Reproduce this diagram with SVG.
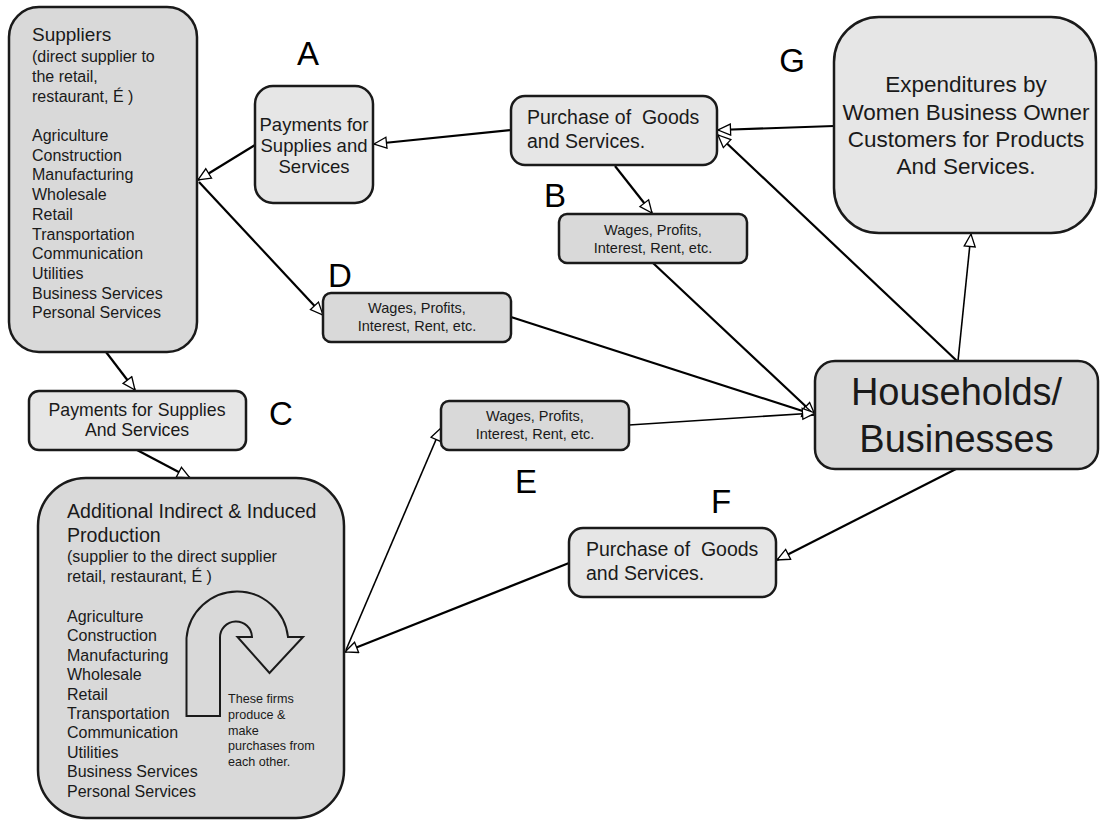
<svg xmlns="http://www.w3.org/2000/svg" width="1103" height="823" viewBox="0 0 1103 823">
<style>
text{font-family:"Liberation Sans",Arial,sans-serif;fill:#1a1a1a;white-space:pre}
.box{stroke:#1a1a1a;stroke-width:2.5}
.lt{fill:#e6e6e6}
.dk{fill:#d9d9d9}
.c{text-anchor:middle}
.lbl{font-size:33px;fill:#000;text-anchor:middle}
.ln{fill:none;stroke:#000;stroke-width:2.2;marker-end:url(#ah)}
.th{stroke-width:1.6}
</style>
<defs>
<marker id="ah" markerUnits="userSpaceOnUse" markerWidth="16" markerHeight="14" refX="14" refY="6.5" orient="auto">
<path d="M1.5,1 L14,6.5 L1.5,12 Z" fill="#fff" stroke="#000" stroke-width="1.3"/>
</marker>
</defs>
<rect width="1103" height="823" fill="#fff"/>

<g id="connectors">
<line class="ln" x1="511" y1="130" x2="374" y2="144"/>
<line class="ln" x1="255" y1="145" x2="198" y2="180"/>
<line class="ln" x1="199" y1="182" x2="323" y2="315"/>
<line class="ln" x1="615" y1="166" x2="652" y2="213"/>
<line class="ln" x1="834" y1="126" x2="718" y2="130"/>
<line class="ln" x1="957" y1="361" x2="718" y2="135"/>
<line class="ln th" x1="958" y1="361" x2="971" y2="234"/>
<line class="ln" x1="653" y1="263" x2="815" y2="415"/>
<line class="ln" x1="511" y1="317" x2="815" y2="415"/>
<line class="ln th" x1="629" y1="425" x2="815" y2="413"/>
<line class="ln" x1="956" y1="469" x2="777" y2="560"/>
<line class="ln" x1="569" y1="563" x2="345" y2="652"/>
<line class="ln th" x1="346" y1="650" x2="441" y2="428"/>
<line class="ln" x1="106" y1="352" x2="135" y2="390"/>
<line class="ln" x1="137" y1="450" x2="190" y2="478"/>
</g>

<g id="suppliers">
<rect class="box dk" x="9" y="7" width="188" height="345" rx="30"/>
<text x="32" y="41" font-size="19">Suppliers</text>
<text x="32" y="62" font-size="16">(direct supplier to</text>
<text x="32" y="82" font-size="16">the retail,</text>
<text x="32" y="102" font-size="16">restaurant, É )</text>
<text font-size="16">
<tspan x="32" y="141">Agriculture</tspan>
<tspan x="32" y="160.7">Construction</tspan>
<tspan x="32" y="180.4">Manufacturing</tspan>
<tspan x="32" y="200.1">Wholesale</tspan>
<tspan x="32" y="219.8">Retail</tspan>
<tspan x="32" y="239.5">Transportation</tspan>
<tspan x="32" y="259.2">Communication</tspan>
<tspan x="32" y="278.9">Utilities</tspan>
<tspan x="32" y="298.6">Business Services</tspan>
<tspan x="32" y="318.3">Personal Services</tspan>
</text>
</g>

<g id="payments-a">
<rect class="box lt" x="255" y="86" width="118" height="117" rx="18"/>
<text class="c" x="314" y="131" font-size="18.5">Payments for</text>
<text class="c" x="314" y="152" font-size="18.5">Supplies and</text>
<text class="c" x="314" y="173" font-size="18.5">Services</text>
</g>
<text class="lbl" x="308" y="65" font-size="31">A</text>

<g id="purchase-top">
<rect class="box lt" x="511" y="96" width="206" height="69" rx="14"/>
<text x="527" y="124" font-size="19.5">Purchase of  Goods</text>
<text x="527" y="148" font-size="19.5">and Services.</text>
</g>
<text class="lbl" x="555" y="207" font-size="34">B</text>

<g id="wages-b">
<rect class="box dk" x="559" y="214" width="188" height="49" rx="8"/>
<text class="c" x="653" y="235" font-size="14.5">Wages, Profits,</text>
<text class="c" x="653" y="253" font-size="14.5">Interest, Rent, etc.</text>
</g>

<g id="wages-d">
<rect class="box dk" x="323" y="293" width="188" height="49" rx="8"/>
<text class="c" x="417" y="313" font-size="14.5">Wages, Profits,</text>
<text class="c" x="417" y="331" font-size="14.5">Interest, Rent, etc.</text>
</g>
<text class="lbl" x="340" y="287" font-size="35">D</text>

<g id="wages-e">
<rect class="box dk" x="441" y="401" width="188" height="49" rx="8"/>
<text class="c" x="535" y="421" font-size="14.5">Wages, Profits,</text>
<text class="c" x="535" y="439" font-size="14.5">Interest, Rent, etc.</text>
</g>
<text class="lbl" x="526" y="493" font-size="38">E</text>

<g id="expenditures">
<rect class="box lt" x="834" y="17" width="262" height="216" rx="45"/>
<text class="c" x="966" y="92" font-size="22.5">Expenditures by</text>
<text class="c" x="966" y="119.5" font-size="22.5">Women Business Owner</text>
<text class="c" x="966" y="147" font-size="22.5">Customers for Products</text>
<text class="c" x="966" y="174" font-size="22.5">And Services.</text>
</g>
<text class="lbl" x="792" y="72" font-size="37">G</text>

<g id="households">
<rect class="box dk" x="815" y="361" width="283" height="108" rx="20"/>
<text class="c" x="956.5" y="405" font-size="38">Households/</text>
<text class="c" x="956.5" y="452" font-size="38">Businesses</text>
</g>

<g id="payments-c">
<rect class="box lt" x="29" y="391" width="217" height="59" rx="10"/>
<text class="c" x="137" y="416" font-size="17.7">Payments for Supplies</text>
<text class="c" x="137" y="436" font-size="17.7">And Services</text>
</g>
<text class="lbl" x="281" y="425" font-size="32">C</text>

<g id="purchase-f">
<rect class="box lt" x="569" y="528" width="207" height="69" rx="14"/>
<text x="586" y="556" font-size="19.5">Purchase of  Goods</text>
<text x="586" y="580" font-size="19.5">and Services.</text>
</g>
<text class="lbl" x="721" y="513" font-size="38">F</text>

<g id="indirect">
<rect class="box dk" x="38" y="478" width="306" height="340" rx="48"/>
<text x="67" y="518" font-size="19.6">Additional Indirect &amp; Induced</text>
<text x="67" y="542" font-size="19.6">Production</text>
<text x="67" y="562" font-size="16">(supplier to the direct supplier</text>
<text x="67" y="582" font-size="16">retail, restaurant, É )</text>
<text font-size="16">
<tspan x="67" y="622">Agriculture</tspan>
<tspan x="67" y="641.4">Construction</tspan>
<tspan x="67" y="660.8">Manufacturing</tspan>
<tspan x="67" y="680.2">Wholesale</tspan>
<tspan x="67" y="699.6">Retail</tspan>
<tspan x="67" y="719">Transportation</tspan>
<tspan x="67" y="738.4">Communication</tspan>
<tspan x="67" y="757.8">Utilities</tspan>
<tspan x="67" y="777.2">Business Services</tspan>
<tspan x="67" y="796.6">Personal Services</tspan>
</text>
<path d="M186.5,716 L186.5,638 A51,51 0 0 1 288,637 L303,637 L269.5,673 L237.5,637 L252,637 A16,16 0 0 0 220,638 L220,716 Z" fill="#d9d9d9" stroke="#1a1a1a" stroke-width="2"/>
<text font-size="12.6">
<tspan x="228" y="703">These firms</tspan>
<tspan x="228" y="719">produce &amp;</tspan>
<tspan x="228" y="734.5">make</tspan>
<tspan x="228" y="750">purchases from</tspan>
<tspan x="228" y="766">each other.</tspan>
</text>
</g>
</svg>
